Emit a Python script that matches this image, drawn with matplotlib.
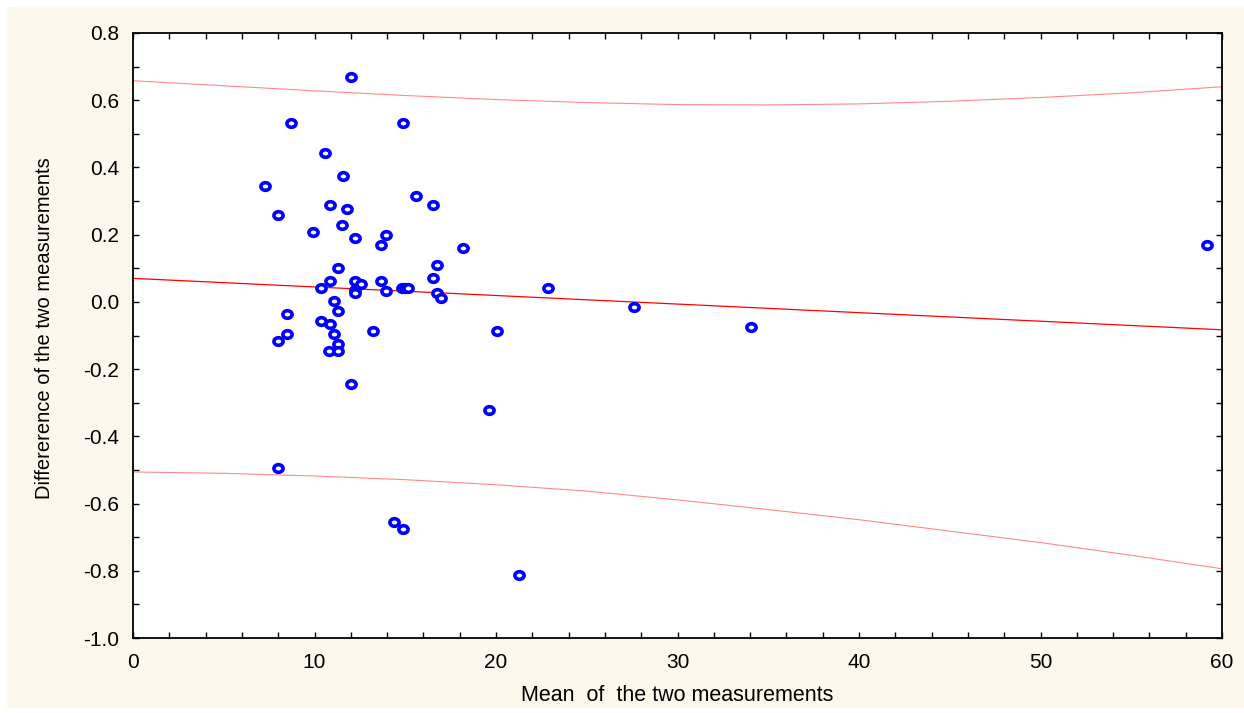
import matplotlib
matplotlib.use("Agg")
import matplotlib.pyplot as plt
from matplotlib.path import Path
from matplotlib.patches import Rectangle
from matplotlib.ticker import MultipleLocator, FormatStrFormatter

# measured points (mean, difference)
mean_vals = [12.03, 8.70, 14.86, 10.60, 11.55, 7.29, 15.57, 10.84, 16.53, 11.77,
             7.99, 11.53, 9.90, 12.25, 13.92, 13.68, 18.18, 59.19, 11.31, 16.77,
             16.53, 10.84, 10.36, 12.23, 12.54, 13.68, 12.23, 12.23, 13.92, 14.80,
             15.00, 15.15, 16.77, 16.99, 22.87, 11.09, 27.60, 8.47, 11.31, 10.36,
             10.84, 34.05, 13.20, 20.07, 8.47, 11.09, 7.99, 11.31, 10.82, 11.31,
             12.03, 19.61, 7.99, 14.40, 14.88, 21.27]
diff_vals = [0.668, 0.533, 0.533, 0.444, 0.375, 0.346, 0.316, 0.287, 0.287, 0.277,
             0.258, 0.229, 0.209, 0.189, 0.199, 0.169, 0.159, 0.169, 0.101, 0.110,
             0.071, 0.061, 0.042, 0.061, 0.052, 0.061, 0.035, 0.025, 0.031, 0.042,
             0.042, 0.042, 0.025, 0.012, 0.041, 0.002, -0.015, -0.036, -0.027, -0.056,
             -0.066, -0.075, -0.086, -0.086, -0.096, -0.096, -0.116, -0.126, -0.145, -0.145,
             -0.244, -0.322, -0.495, -0.655, -0.675, -0.813]

# regression line and prediction bands
reg_x = [0, 60]
reg_y = [0.070, -0.083]
band_x = [0, 5, 10, 15, 20, 25, 30, 35, 40, 45, 50, 55, 60]
upper_y = [0.658, 0.643, 0.628, 0.614, 0.602, 0.593, 0.587, 0.586, 0.589, 0.597, 0.608, 0.622, 0.640]
lower_y = [-0.506, -0.510, -0.518, -0.529, -0.544, -0.563, -0.589, -0.618, -0.648, -0.682, -0.716, -0.754, -0.794]

plt.rcParams['font.family'] = ['Liberation Sans', 'DejaVu Sans']

fig = plt.figure(figsize=(12.44, 7.13), dpi=100, facecolor='white')
# cream panel behind the plot
fig.patches.append(Rectangle((7 / 1244, 5 / 713), 1.0, 701 / 713,
                             transform=fig.transFigure, facecolor='#fdf8ec',
                             edgecolor='none', zorder=-10))

ax = fig.add_axes([133 / 1244, 1 - 638 / 713, (1222 - 133) / 1244, (638 - 33) / 713])
ax.set_facecolor('white')

# slightly flattened ring marker
circ = Path.unit_circle()
ring = Path(circ.vertices * [1.0, 0.83], circ.codes)

ax.plot(band_x, upper_y, color='#ff6b6b', lw=0.8, alpha=0.8)
ax.plot(band_x, lower_y, color='#ff6b6b', lw=0.8, alpha=0.8)
ax.plot(reg_x, reg_y, color='red', lw=0.9)
ax.plot(mean_vals, diff_vals, ls='none', marker=ring, markersize=6.6,
        markerfacecolor='white', markeredgecolor='#0000ff', markeredgewidth=2.6)

ax.set_xlim(0, 60)
ax.set_ylim(-1.0, 0.8)
ax.xaxis.set_major_locator(MultipleLocator(10))
ax.xaxis.set_minor_locator(MultipleLocator(2))
ax.yaxis.set_major_locator(MultipleLocator(0.2))
ax.yaxis.set_minor_locator(MultipleLocator(0.1))
ax.yaxis.set_major_formatter(FormatStrFormatter('%.1f'))
ax.tick_params(which='both', direction='in', length=4, width=1, top=True, right=True,
               labelsize=15)
ax.tick_params(axis='x', pad=10.5)
ax.tick_params(axis='y', pad=10)
for s in ax.spines.values():
    s.set_linewidth(1.3)

ax.set_xlabel('Mean  of  the two measurements', fontsize=15.5)
ax.set_ylabel('Differerence of the two measurements', fontsize=14.5)
ax.xaxis.set_label_coords(0.5, -0.077)
ax.yaxis.set_label_coords(-0.073, 0.512)

fig.savefig('out.png', dpi=100, facecolor=fig.get_facecolor())
